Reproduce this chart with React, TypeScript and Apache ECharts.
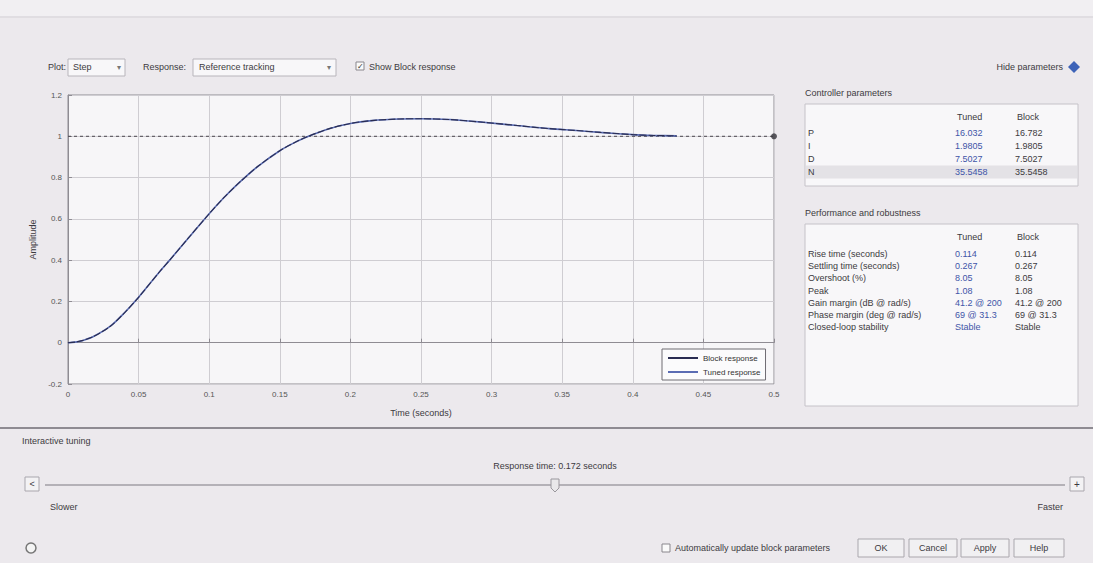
import React, { useEffect, useRef } from "react";
import * as echarts from "echarts";

// ---- data ----
const timeSec = [0, 0.005, 0.01, 0.018, 0.03, 0.04, 0.05, 0.065, 0.072, 0.085, 0.1, 0.11, 0.122, 0.135, 0.15, 0.16, 0.169, 0.185, 0.2, 0.215, 0.235, 0.25, 0.27, 0.294, 0.318, 0.341, 0.36, 0.377, 0.4, 0.415, 0.431];
const blockResponse = [0, 0.003, 0.01, 0.03, 0.08, 0.145, 0.22, 0.345, 0.4, 0.505, 0.625, 0.7, 0.78, 0.857, 0.93, 0.968, 0.997, 1.037, 1.062, 1.076, 1.084, 1.085, 1.081, 1.068, 1.052, 1.037, 1.028, 1.019, 1.008, 1.004, 1.002];
const tunedResponse = [0, 0.003, 0.01, 0.03, 0.08, 0.145, 0.22, 0.345, 0.4, 0.505, 0.625, 0.7, 0.78, 0.857, 0.93, 0.968, 0.997, 1.037, 1.062, 1.076, 1.084, 1.085, 1.081, 1.068, 1.052, 1.037, 1.028, 1.019, 1.008, 1.004, 1.002];
const referenceTime = [0, 0.5];
const referenceValue = [1, 1];
const legendNames = ["Block response", "Tuned response"];

const paramRows = ["P", "I", "D", "N"];
const paramTuned = ["16.032", "1.9805", "7.5027", "35.5458"];
const paramBlock = ["16.782", "1.9805", "7.5027", "35.5458"];

const perfRows = [
  "Rise time (seconds)",
  "Settling time (seconds)",
  "Overshoot (%)",
  "Peak",
  "Gain margin (dB @ rad/s)",
  "Phase margin (deg @ rad/s)",
  "Closed-loop stability",
];
const perfTuned = ["0.114", "0.267", "8.05", "1.08", "41.2 @ 200", "69 @ 31.3", "Stable"];
const perfBlock = ["0.114", "0.267", "8.05", "1.08", "41.2 @ 200", "69 @ 31.3", "Stable"];

const FONT = '"Liberation Sans", "DejaVu Sans", sans-serif';

function txt(x: number, y: number, text: string, opts: any = {}) {
  return {
    type: "text",
    x,
    y,
    silent: true,
    style: {
      text,
      fill: opts.fill || "#3c3a40",
      font: `${opts.weight || "normal"} ${opts.size || 9}px ${FONT}`,
      textAlign: opts.align || "left",
      textVerticalAlign: "middle",
    },
  };
}
function rect(x: number, y: number, w: number, h: number, fill: string, stroke?: string, lw = 1) {
  return {
    type: "rect",
    silent: true,
    shape: { x, y, width: w, height: h },
    style: { fill, stroke: stroke || null, lineWidth: lw },
  };
}
function line(x1: number, y1: number, x2: number, y2: number, stroke: string, lw = 1) {
  return {
    type: "line",
    silent: true,
    shape: { x1, y1, x2, y2 },
    style: { stroke, lineWidth: lw },
  };
}

export default function App() {
  const ref = useRef<HTMLDivElement>(null);
  useEffect(() => {
    document.body.style.margin = "0";
    const chart = echarts.init(ref.current!, null, { renderer: "svg" });

    const graphics: any[] = [];
    // top strip
    graphics.push(rect(0, 0, 1093, 16, "#f1eff2"));
    graphics.push(line(0, 17, 1093, 17, "#d4d1d6", 1));
    // top controls
    graphics.push(txt(48, 67, "Plot:", { size: 9 }));
    graphics.push(rect(68, 59, 57, 17, "#f8f7f9", "#b8b5bb"));
    graphics.push(txt(73, 67, "Step", {}));
    graphics.push(txt(117, 67, "▾", { size: 8, fill: "#777" }));
    graphics.push(txt(143, 67, "Response:", {}));
    graphics.push(rect(193, 59, 143, 17, "#f8f7f9", "#b8b5bb"));
    graphics.push(txt(199, 67, "Reference tracking", {}));
    graphics.push(txt(327, 67, "▾", { size: 8, fill: "#777" }));
    graphics.push(rect(356, 62, 8, 8, "#fafafa", "#8a878d"));
    graphics.push(txt(357, 66, "✓", { size: 8, fill: "#333" }));
    graphics.push(txt(369, 67, "Show Block response", {}));
    graphics.push(txt(1063, 67, "Hide parameters", { align: "right" }));
    graphics.push({
      type: "polygon",
      silent: true,
      shape: { points: [[1068, 67], [1074, 61], [1080, 67], [1074, 73]] },
      style: { fill: "#3d63b8" },
    });

    // controller parameters panel
    graphics.push(txt(805, 93, "Controller parameters", {}));
    graphics.push(rect(805, 104, 273, 82, "#f8f7f9", "#c5c2c8"));
    graphics.push(txt(957, 117, "Tuned", {}));
    graphics.push(txt(1017, 117, "Block", {}));
    graphics.push(rect(806, 165.5, 271, 13, "#e4e2e6"));
    paramRows.forEach((r, i) => {
      const y = 133 + i * 13;
      graphics.push(txt(808, y, r, {}));
      graphics.push(txt(955, y, paramTuned[i], { fill: "#3f55a8" }));
      graphics.push(txt(1015, y, paramBlock[i], {}));
    });

    // performance panel
    graphics.push(txt(805, 213, "Performance and robustness", {}));
    graphics.push(rect(805, 224, 273, 182, "#f8f7f9", "#c5c2c8"));
    graphics.push(txt(957, 237, "Tuned", {}));
    graphics.push(txt(1017, 237, "Block", {}));
    perfRows.forEach((r, i) => {
      const y = 254 + i * 12.2;
      graphics.push(txt(808, y, r, {}));
      graphics.push(txt(955, y, perfTuned[i], { fill: "#3f55a8" }));
      graphics.push(txt(1015, y, perfBlock[i], {}));
    });

    // separator and bottom section
    graphics.push(line(0, 428, 1093, 428, "#8e8b92", 2));
    graphics.push(txt(22, 441, "Interactive tuning", {}));
    graphics.push(txt(555, 466, "Response time: 0.172 seconds", { align: "center" }));
    graphics.push(rect(25, 477, 14, 14, "#f3f2f4", "#a9a6ad"));
    graphics.push(txt(32, 484, "<", { align: "center", size: 9 }));
    graphics.push(line(45, 485, 1065, 485, "#b4b1b7", 2));
    graphics.push({
      type: "polygon",
      silent: true,
      shape: { points: [[551, 479], [559, 479], [559, 488], [555, 492], [551, 488]] },
      style: { fill: "#e9e8ea", stroke: "#9a979d", lineWidth: 1 },
    });
    graphics.push(rect(1070, 477, 14, 14, "#f3f2f4", "#a9a6ad"));
    graphics.push(txt(1077, 484, "+", { align: "center", size: 10 }));
    graphics.push(txt(50, 507, "Slower", {}));
    graphics.push(txt(1063, 507, "Faster", { align: "right" }));

    graphics.push({
      type: "circle",
      silent: true,
      shape: { cx: 31, cy: 548, r: 5 },
      style: { fill: "#f4f4f4", stroke: "#777", lineWidth: 1.5 },
    });
    graphics.push(rect(662, 544, 8, 8, "#fafafa", "#8a878d"));
    graphics.push(txt(675, 548, "Automatically update block parameters", {}));
    const buttons = [["OK", 858, 46], ["Cancel", 909, 48], ["Apply", 961, 48], ["Help", 1014, 50]];
    buttons.forEach(([label, x, w]: any) => {
      graphics.push(rect(x, 539, w, 18, "#f1f0f2", "#aaa7ad"));
      graphics.push(txt(x + w / 2, 548, label, { align: "center" }));
    });

    const blockData = timeSec.map((t, i) => [t, blockResponse[i]]);
    const tunedData = timeSec.map((t, i) => [t, tunedResponse[i]]);
    const refData = referenceTime.map((t, i) => [t, referenceValue[i]]);

    chart.setOption({
      animation: false,
      backgroundColor: "#ece9ed",
      textStyle: { fontFamily: FONT },
      grid: {
        left: 68,
        right: 319,
        top: 95,
        bottom: 179,
        show: true,
        backgroundColor: "#f7f6f8",
        borderColor: "#8f8c93",
        borderWidth: 1,
      },
      xAxis: {
        type: "value",
        min: 0,
        max: 0.5,
        interval: 0.05,
        name: "Time (seconds)",
        nameLocation: "middle",
        nameGap: 24,
        nameTextStyle: { fontSize: 9, color: "#3c3a40", fontFamily: FONT },
        axisLine: { show: true, lineStyle: { color: "#8f8c93" } },
        axisTick: { show: true, inside: true, length: 4, lineStyle: { color: "#8f8c93" } },
        axisLabel: {
          fontSize: 8,
          color: "#555",
          margin: 6,
          fontFamily: FONT,
          formatter: (v: number) => String(Math.round(v * 100) / 100),
        },
        splitLine: { show: true, lineStyle: { color: "#cfcdd2", width: 1 } },
      },
      yAxis: {
        type: "value",
        min: -0.2,
        max: 1.2,
        interval: 0.2,
        name: "Amplitude",
        nameLocation: "middle",
        nameGap: 30,
        nameTextStyle: { fontSize: 9, color: "#3c3a40", fontFamily: FONT },
        axisLine: { show: true, lineStyle: { color: "#8f8c93" } },
        axisTick: { show: true, inside: true, length: 4, lineStyle: { color: "#8f8c93" } },
        axisLabel: {
          fontSize: 8,
          color: "#555",
          margin: 6,
          fontFamily: FONT,
          formatter: (v: number) => String(Math.round(v * 10) / 10),
        },
        splitLine: { show: true, lineStyle: { color: "#cfcdd2", width: 1 } },
      },
      legend: {
        data: [
          { name: legendNames[0], itemStyle: { color: "#2a2d52" } },
          { name: legendNames[1], itemStyle: { color: "#5a6cb3" } },
        ],
        orient: "vertical",
        left: 662,
        top: 349,
        icon: "rect",
        itemWidth: 30,
        itemHeight: 2,
        itemGap: 6,
        padding: [5, 5, 4, 6],
        backgroundColor: "#fbfbfc",
        borderColor: "#6f6c73",
        borderWidth: 1,
        textStyle: { fontSize: 8, color: "#333", fontFamily: FONT },
      },
      series: [
        {
          name: "Reference",
          type: "line",
          data: refData,
          showSymbol: false,
          symbol: "none",
          lineStyle: { color: "#4a474e", width: 1, type: [3, 3] },
          z: 1,
        },
        {
          name: "Reference end",
          type: "scatter",
          data: [refData[1]],
          symbolSize: 6,
          itemStyle: { color: "#35333a" },
          z: 3,
        },
        {
          name: legendNames[1],
          type: "line",
          data: tunedData,
          smooth: 0.3,
          showSymbol: false,
          lineStyle: { color: "#5a6cb3", width: 1.6 },
          z: 2,
        },
        {
          name: legendNames[0],
          type: "line",
          data: blockData,
          smooth: 0.3,
          showSymbol: false,
          lineStyle: { color: "#2a2d52", width: 1.1, type: [7, 2] },
          z: 3,
        },
      ],
      graphic: graphics,
    });
    return () => chart.dispose();
  }, []);
  return <div ref={ref} style={{ position: "absolute", left: 0, top: 0, width: 1093, height: 563 }} />;
}
